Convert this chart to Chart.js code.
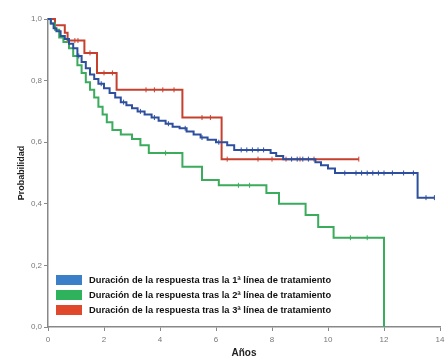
<!DOCTYPE html>
<html>
<head>
<meta charset="utf-8">
<script src="https://cdn.jsdelivr.net/npm/chart.js@4"></script>
<style>
  html, body { margin: 0; padding: 0; background: #fff; }
  #wrap { width: 445px; height: 359px; }
</style>
</head>
<body>
<div id="wrap"><canvas id="kmChart"></canvas></div>
<script>
// series (years, survival)
const labels = [
    "Duración de la respuesta tras la 1ª línea de tratamiento",
    "Duración de la respuesta tras la 2ª línea de tratamiento",
    "Duración de la respuesta tras la 3ª línea de tratamiento"
];
const xTicks = [0, 2, 4, 6, 8, 10, 12, 14];
const yTicks = [0, 0.2, 0.4, 0.6, 0.8, 1.0];

const blueT = [0, 0.1, 0.2, 0.3, 0.45, 0.6, 0.75, 0.9, 1.05, 1.2, 1.35, 1.5, 1.65, 1.8, 2.0, 2.2, 2.4, 2.6, 2.8, 3.0, 3.2, 3.45, 3.7, 3.95, 4.2, 4.45, 4.7, 4.95, 5.2, 5.45, 5.7, 6.0, 6.4, 6.65, 7.95, 8.15, 8.4, 9.55, 9.75, 10.0, 10.25, 13.2, 13.8];
const blueS = [1.0, 0.985, 0.97, 0.96, 0.945, 0.935, 0.92, 0.905, 0.88, 0.86, 0.84, 0.82, 0.805, 0.79, 0.775, 0.76, 0.745, 0.73, 0.72, 0.71, 0.70, 0.69, 0.68, 0.67, 0.66, 0.65, 0.645, 0.635, 0.625, 0.615, 0.608, 0.60, 0.59, 0.575, 0.565, 0.555, 0.545, 0.535, 0.525, 0.515, 0.50, 0.42, 0.42];
const blueCensT = [1.1, 1.9, 2.7, 3.3, 3.8, 4.3, 4.9, 5.5, 6.1, 6.9, 7.1, 7.3, 7.5, 7.7, 8.7, 8.9, 9.1, 9.3, 10.6, 11.0, 11.2, 11.4, 11.6, 11.8, 12.0, 12.3, 12.7, 13.05, 13.5, 13.8];
const blueCensS = [0.88, 0.79, 0.73, 0.70, 0.68, 0.66, 0.645, 0.615, 0.60, 0.575, 0.575, 0.575, 0.575, 0.575, 0.545, 0.545, 0.545, 0.545, 0.50, 0.50, 0.50, 0.50, 0.50, 0.50, 0.50, 0.50, 0.50, 0.50, 0.42, 0.42];

const greenT = [0, 0.1, 0.25, 0.4, 0.55, 0.75, 0.9, 1.05, 1.2, 1.35, 1.5, 1.65, 1.8, 1.95, 2.1, 2.3, 2.6, 3.0, 3.3, 3.6, 4.8, 5.5, 6.1, 7.8, 8.25, 9.2, 9.65, 10.2, 12.0];
const greenS = [1.0, 0.985, 0.965, 0.94, 0.925, 0.905, 0.88, 0.85, 0.825, 0.795, 0.77, 0.745, 0.715, 0.69, 0.665, 0.64, 0.625, 0.61, 0.59, 0.565, 0.52, 0.477, 0.46, 0.435, 0.40, 0.364, 0.325, 0.29, 0.0];
const greenCensT = [4.2, 6.8, 7.2, 10.8, 11.4];
const greenCensS = [0.565, 0.46, 0.46, 0.29, 0.29];

const redT = [0, 0.25, 0.6, 0.7, 1.3, 1.75, 2.45, 4.8, 6.2, 11.1];
const redS = [1.0, 0.98, 0.955, 0.93, 0.89, 0.825, 0.77, 0.68, 0.545, 0.545];
const redCensT = [0.96, 1.07, 1.5, 2.0, 2.3, 3.5, 3.8, 4.1, 4.5, 5.5, 5.8, 6.4, 7.5, 8.0, 8.5, 9.0, 9.5, 11.1];
const redCensS = [0.93, 0.93, 0.89, 0.825, 0.825, 0.77, 0.77, 0.77, 0.77, 0.68, 0.68, 0.545, 0.545, 0.545, 0.545, 0.545, 0.545, 0.545];

const lineColors = ["#2e4f9e", "#3bab5c", "#c6402e"];
const boxColors = ["#3b7fc9", "#2fb25c", "#e0482c"];

function pts(ts, ss) {
    return ts.map((t, i) => ({x: t, y: ss[i]}));
}

function stepSet(ts, ss, color) {
    return {
        type: "line",
        data: pts(ts, ss),
        stepped: true,
        borderColor: color,
        borderWidth: 2,
        pointRadius: 0,
        fill: false,
        clip: false
    };
}

function censSet(ts, ss, color) {
    return {
        type: "scatter",
        data: pts(ts, ss),
        pointStyle: "line",
        rotation: 90,
        pointRadius: 2.5,
        borderColor: color,
        borderWidth: 1,
        clip: false
    };
}

// legend drawn inside the plot, lower left
const insideLegend = {
    id: "insideLegend",
    afterDraw(chart) {
        const ctx = chart.ctx;
        const left = chart.chartArea.left + 8;
        const rows = [280, 295, 310];
        ctx.save();
        ctx.font = "bold 9.3px 'Liberation Sans', Arial, sans-serif";
        ctx.textBaseline = "middle";
        labels.forEach((txt, i) => {
            ctx.fillStyle = boxColors[i];
            ctx.fillRect(left, rows[i] - 5, 26, 10);
            ctx.fillStyle = "#111";
            ctx.fillText(txt, left + 33, rows[i] + 0.5);
        });
        ctx.restore();
    }
};

const ctx = document.getElementById("kmChart").getContext("2d");
new Chart(ctx, {
    data: {
        datasets: [
            stepSet(blueT, blueS, lineColors[0]),
            censSet(blueCensT, blueCensS, lineColors[0]),
            stepSet(greenT, greenS, lineColors[1]),
            censSet(greenCensT, greenCensS, lineColors[1]),
            stepSet(redT, redS, lineColors[2]),
            censSet(redCensT, redCensS, lineColors[2])
        ]
    },
    options: {
        responsive: true,
        maintainAspectRatio: false,
        animation: false,
        layout: {
            padding: {top: 19, right: 0, left: 1, bottom: 0}
        },
        plugins: {
            legend: {display: false},
            tooltip: {enabled: false}
        },
        scales: {
            x: {
                type: "linear",
                min: 0,
                max: 14,
                afterBuildTicks: scale => {
                    scale.ticks = xTicks.map(v => ({value: v}));
                },
                afterFit: scale => {
                    scale.height = 32;
                    scale.paddingRight = 4;
                    scale.paddingLeft = 0;
                },
                ticks: {
                    color: "#777",
                    font: {size: 8},
                    padding: 4,
                    maxRotation: 0
                },
                grid: {
                    drawOnChartArea: false,
                    drawTicks: true,
                    tickLength: 4,
                    color: "#888"
                },
                border: {color: "#888", width: 1.5},
                title: {
                    display: true,
                    text: "Años",
                    color: "#222",
                    font: {size: 10, weight: "bold"},
                    padding: {top: 0, bottom: 0}
                }
            },
            y: {
                min: 0,
                max: 1,
                afterBuildTicks: scale => {
                    scale.ticks = yTicks.map(v => ({value: v}));
                },
                afterFit: scale => { scale.width = 47; },
                ticks: {
                    color: "#777",
                    font: {size: 8},
                    padding: 2,
                    callback: v => v.toFixed(1).replace(".", ",")
                },
                grid: {
                    drawOnChartArea: false,
                    drawTicks: true,
                    tickLength: 4,
                    color: "#888"
                },
                border: {color: "#888", width: 1.5},
                title: {
                    display: true,
                    text: "Probabilidad",
                    color: "#222",
                    font: {size: 9, weight: "bold"},
                    padding: {top: 15, bottom: 2}
                }
            }
        }
    },
    plugins: [insideLegend]
});
</script>
</body>
</html>
